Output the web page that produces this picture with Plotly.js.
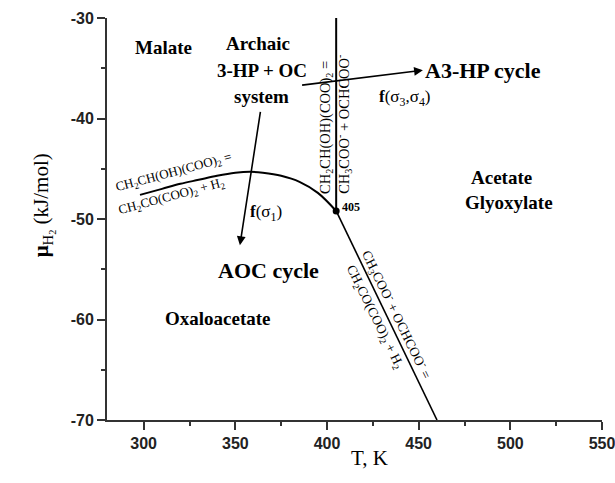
<!DOCTYPE html>
<html>
<head>
<meta charset="utf-8">
<script src="https://cdn.plot.ly/plotly-3.0.1.min.js"></script>
<style>html,body{margin:0;padding:0;background:#fff;}#chart{width:615px;height:483px;}</style>
</head>
<body>
<div id="chart"></div>
<script>
// ---- data ----
const boundaryT  = [298, 310, 320, 330, 340, 350, 358, 365, 375, 385, 395, 405];
const boundaryMu = [-47.6, -47.0, -46.5, -46.1, -45.7, -45.4, -45.3, -45.4, -45.7, -46.3, -47.4, -49.2];
const verticalT  = [405, 405];
const verticalMu = [-30, -49.2];
const lowerT     = [405, 460];
const lowerMu    = [-49.2, -70];
const tripleT    = [405];
const tripleMu   = [-49.2];
const xTickVals  = [300, 350, 400, 450, 500, 550];
const xTickText  = ['300', '350', '400', '450', '500', '550'];
const yTickVals  = [-70, -60, -50, -40, -30];
const yTickText  = ['-70', '-60', '-50', '-40', '-30'];

const SERIF = '"Liberation Serif", "Times New Roman", serif';
const SANS = '"Liberation Sans", Arial, sans-serif';
const AX = '#333';

const lineStyle = {color: '#000', width: 2};
const traces = [
  {x: boundaryT, y: boundaryMu, mode: 'lines', line: Object.assign({shape: 'spline'}, lineStyle), hoverinfo: 'skip'},
  {x: verticalT, y: verticalMu, mode: 'lines', line: lineStyle, hoverinfo: 'skip'},
  {x: lowerT, y: lowerMu, mode: 'lines', line: {color: '#000', width: 1.6}, hoverinfo: 'skip'},
  {x: tripleT, y: tripleMu, mode: 'markers', marker: {color: '#000', size: 7}, hoverinfo: 'skip'}
];

function lab(text, x, y, size, opts) {
  return Object.assign({text: text, x: x, y: y, xref: 'x', yref: 'y', showarrow: false,
    font: {family: SERIF, size: size, color: '#000'}}, opts || {});
}
function arrow(x, y, ax, ay) {
  return {text: '', x: x, y: y, ax: ax, ay: ay, xref: 'x', yref: 'y', axref: 'x', ayref: 'y',
    showarrow: true, arrowhead: 2, arrowsize: 1.1, arrowwidth: 1.6, arrowcolor: '#000', standoff: 0, startstandoff: 0};
}

const annotations = [
  lab('<b>Malate</b>', 310.7, -32.9, 19),
  lab('<b>Archaic</b>', 362.3, -32.5, 19),
  lab('<b>3-HP + OC</b>', 364.5, -35.2, 19),
  lab('<b>system</b>', 364.0, -37.8, 19),
  lab('<b>A3-HP cycle</b>', 485.0, -35.25, 22),
  lab('<b>f</b>(σ<sub>3</sub>,σ<sub>4</sub>)', 442.7, -38.0, 17),
  lab('<b>Acetate</b>', 495.1, -45.9, 19),
  lab('<b>Glyoxylate</b>', 499.5, -48.4, 19),
  lab('<b>405</b>', 407.3, -48.8, 12, {xanchor: 'left'}),
  lab('<b>f</b>(σ<sub>1</sub>)', 366.8, -49.4, 17),
  lab('<b>AOC cycle</b>', 368.0, -55.1, 22),
  lab('<b>Oxaloacetate</b>', 340.7, -59.9, 19),
  lab('CH<sub>2</sub>CH(OH)(COO)<sub>2</sub> =', 316.2, -45.35, 13, {textangle: -15}),
  lab('CH<sub>2</sub>CO(COO)<sub>2</sub> + H<sub>2</sub>', 315.6, -47.75, 13, {textangle: -15}),
  lab('CH<sub>2</sub>CH(OH)(COO)<sub>2</sub> =', 399.1, -40.9, 14.5, {textangle: -90}),
  lab('CH<sub>3</sub>COO<sup>-</sup> + OCHCOO<sup>-</sup>', 408.9, -40.6, 14.5, {textangle: -90}),
  lab('CH<sub>3</sub>COO<sup>-</sup> + OCHCOO<sup>-</sup> =', 437.7, -59.5, 13.5, {textangle: 64}),
  lab('CH<sub>2</sub>CO(COO)<sub>2</sub> + H<sub>2</sub>', 425.9, -59.85, 13.5, {textangle: 64}),
  arrow(452.3, -35.2, 385.6, -36.7),
  arrow(352.5, -52.6, 363.8, -39.2),
  {text: 'T, K', x: (369.5 - 106.7) / 495, y: (420 - 472) / 402, xref: 'paper', yref: 'paper', showarrow: false,
    font: {family: SERIF, size: 21, color: '#000'}},
  {text: '<b>μ</b><sub>H<sub>2</sub></sub> (kJ/mol)', x: (27 - 106.7) / 495, y: (420 - 205) / 402, xref: 'paper', yref: 'paper',
    showarrow: false, textangle: -90, font: {family: SERIF, size: 21, color: '#000'}}
];

const layout = {
  width: 615, height: 483,
  margin: {l: 106.7, r: 13.3, t: 18, b: 63, pad: 0},
  paper_bgcolor: '#fff', plot_bgcolor: '#fff',
  showlegend: false,
  xaxis: {
    range: [280, 550], showgrid: false, zeroline: false,
    showline: true, linecolor: AX, linewidth: 2,
    ticks: 'outside', ticklen: 8, tickwidth: 1.5, tickcolor: AX,
    tickvals: xTickVals, ticktext: xTickText, ticklabeloverflow: 'allow',
    tickfont: {family: SANS, size: 16, color: '#222', weight: 'bold'},
    minor: {dtick: 25, tick0: 275, ticks: 'outside', ticklen: 4, tickwidth: 1.5, tickcolor: AX, showgrid: false}
  },
  yaxis: {
    range: [-70, -30], showgrid: false, zeroline: false,
    showline: true, linecolor: AX, linewidth: 2,
    ticks: 'outside', ticklen: 8, tickwidth: 1.5, tickcolor: AX,
    tickvals: yTickVals, ticktext: yTickText,
    tickfont: {family: SANS, size: 16, color: '#222', weight: 'bold'},
    minor: {dtick: 5, tick0: -70, ticks: 'outside', ticklen: 4, tickwidth: 1.5, tickcolor: AX, showgrid: false}
  },
  annotations: annotations
};

Plotly.newPlot('chart', traces, layout, {displayModeBar: false});
</script>
</body>
</html>
